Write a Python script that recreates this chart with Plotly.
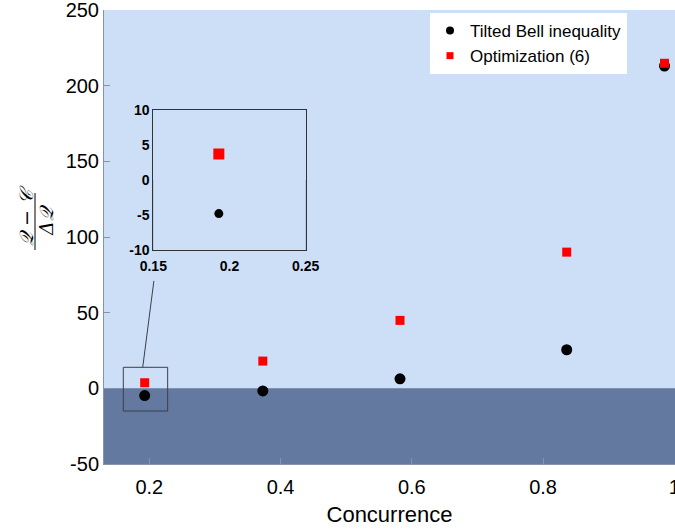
import plotly.graph_objects as go

# ---- data ----
concurrence = [0.193, 0.373, 0.582, 0.836, 0.985]
tilted_bell = [-4.8, -1.7, 6.3, 25.5, 213.0]
optimization = [3.7, 18.0, 44.9, 90.0, 214.8]

series_names = ["Tilted Bell inequality", "Optimization (6)"]

x_tickvals = [0.2, 0.4, 0.6, 0.8, 1.0]
x_ticktext = ["0.2", "0.4", "0.6", "0.8", "1"]
y_tickvals = [-50, 0, 50, 100, 150, 200, 250]
y_ticktext = ["-50", "0", "50", "100", "150", "200", "250"]

inset_x_tickvals = [0.15, 0.2, 0.25]
inset_x_ticktext = ["0.15", "0.2", "0.25"]
inset_y_tickvals = [-10, -5, 0, 5, 10]
inset_y_ticktext = ["-10", "-5", "0", "5", "10"]

# ---- style ----
LIGHT = "#CDDFF6"
DARK = "#6479A0"
AXIS_GRAY = "#8A93A6"
FONT = "Liberation Sans, Arial, sans-serif"

W, H = 675, 531
ML, MR, MT, MB = 104, 0, 10, 67
PW, PH = W - ML - MR, H - MT - MB


def px_x(px):
    return (px - ML) / PW


def px_y(py):
    return (H - MB - py) / PH


fig = go.Figure()

# legend-only entries (small legend symbols as in the reference)
fig.add_trace(go.Scatter(
    x=[None], y=[None], mode="markers", name=series_names[0],
    marker=dict(symbol="circle", size=8, color="black", line=dict(width=0)),
))
fig.add_trace(go.Scatter(
    x=[None], y=[None], mode="markers", name=series_names[1],
    marker=dict(symbol="square", size=7, color="red", line=dict(width=0)),
))

# main traces
fig.add_trace(go.Scatter(
    x=concurrence, y=tilted_bell, mode="markers", name=series_names[0], showlegend=False,
    marker=dict(symbol="circle", size=11, color="black", line=dict(width=0)),
))
fig.add_trace(go.Scatter(
    x=concurrence, y=optimization, mode="markers", name=series_names[1], showlegend=False,
    marker=dict(symbol="square", size=9, color="red", line=dict(width=0)),
))
# inset traces (first point only)
fig.add_trace(go.Scatter(
    x=concurrence[:1], y=tilted_bell[:1], mode="markers", showlegend=False,
    marker=dict(symbol="circle", size=9, color="black", line=dict(width=0)),
    xaxis="x2", yaxis="y2",
))
fig.add_trace(go.Scatter(
    x=concurrence[:1], y=optimization[:1], mode="markers", showlegend=False,
    marker=dict(symbol="square", size=11, color="red", line=dict(width=0)),
    xaxis="x2", yaxis="y2",
))

# zoom indicator (box around first point, connector to inset)
ZOOM_BOX = dict(x0=0.1604, x1=0.228, y0=-15.0, y1=13.9)
CONNECTOR = dict(x0=0.19, y0=13.9, x1=0.207, y1=71.0)

shapes = [
    # negative region in the main plot
    dict(type="rect", xref="x domain", yref="y", x0=0, x1=1, y0=-50, y1=0,
         fillcolor=DARK, line=dict(width=0), layer="below"),
    # negative region in the inset
    dict(type="rect", xref="x2 domain", yref="y2", x0=0, x1=1, y0=-10, y1=0,
         fillcolor=DARK, line=dict(width=0), layer="below"),
    dict(type="rect", xref="x", yref="y", **ZOOM_BOX,
         line=dict(color="#3a3f4a", width=1)),
    dict(type="line", xref="x", yref="y", **CONNECTOR,
         line=dict(color="#3a3f4a", width=1)),
    # fraction bar of the y label
    dict(type="line", xref="paper", yref="paper",
         x0=px_x(35), x1=px_x(35), y0=px_y(193), y1=px_y(250),
         line=dict(color="black", width=1)),
]

annotations = [
    dict(text="<i>𝒬 − 𝒞</i>", xref="paper", yref="paper",
         x=px_x(26), y=px_y(216), textangle=-90, showarrow=False,
         font=dict(family="DejaVu Serif", size=19, color="black"),
         xanchor="center", yanchor="middle"),
    dict(text="<i>Δ𝒬</i>", xref="paper", yref="paper",
         x=px_x(46), y=px_y(220), textangle=-90, showarrow=False,
         font=dict(family="DejaVu Serif", size=19, color="black"),
         xanchor="center", yanchor="middle"),
]

fig.update_layout(
    width=W, height=H,
    margin=dict(l=ML, r=MR, t=MT, b=MB, autoexpand=False),
    paper_bgcolor="white",
    plot_bgcolor=LIGHT,
    font=dict(family=FONT, color="black"),
    showlegend=True,
    legend=dict(x=px_x(430), y=px_y(13), xanchor="left", yanchor="top",
                bgcolor="white", borderwidth=0, font=dict(size=17, family=FONT),
                tracegroupgap=0),
    xaxis=dict(range=[0.131, 1.001], tickvals=x_tickvals, ticktext=x_ticktext,
               ticks="inside", ticklen=6, tickcolor=AXIS_GRAY,
               showline=True, linecolor=AXIS_GRAY, linewidth=1,
               showgrid=False, zeroline=False, ticklabeloverflow="allow",
               ticklabelstandoff=5,
               tickfont=dict(size=20, family=FONT),
               title=dict(text="Concurrence", font=dict(size=22, family=FONT), standoff=9)),
    yaxis=dict(range=[-50, 250], tickvals=y_tickvals, ticktext=y_ticktext,
               ticks="inside", ticklen=6, tickcolor=AXIS_GRAY,
               showline=True, linecolor=AXIS_GRAY, linewidth=1,
               showgrid=False, zeroline=False, ticklabeloverflow="allow",
               tickfont=dict(size=20, family=FONT)),
    xaxis2=dict(domain=[px_x(153.3), px_x(305.7)], anchor="y2",
                range=[0.15, 0.25], tickvals=inset_x_tickvals, ticktext=inset_x_ticktext,
                ticks="", showline=True, mirror=True, linecolor="#333333", linewidth=1,
                showgrid=False, zeroline=False, ticklabelstandoff=3,
                tickfont=dict(size=14, family=FONT, weight="bold")),
    yaxis2=dict(domain=[px_y(250), px_y(110)], anchor="x2",
                range=[-10, 10], tickvals=inset_y_tickvals, ticktext=inset_y_ticktext,
                ticks="", showline=True, mirror=True, linecolor="#333333", linewidth=1,
                showgrid=False, zeroline=False,
                tickfont=dict(size=14, family=FONT, weight="bold")),
    shapes=shapes,
    annotations=annotations,
)

fig.write_html("out.html", config={"displayModeBar": False},
               post_script="document.body.style.margin='0px';")
